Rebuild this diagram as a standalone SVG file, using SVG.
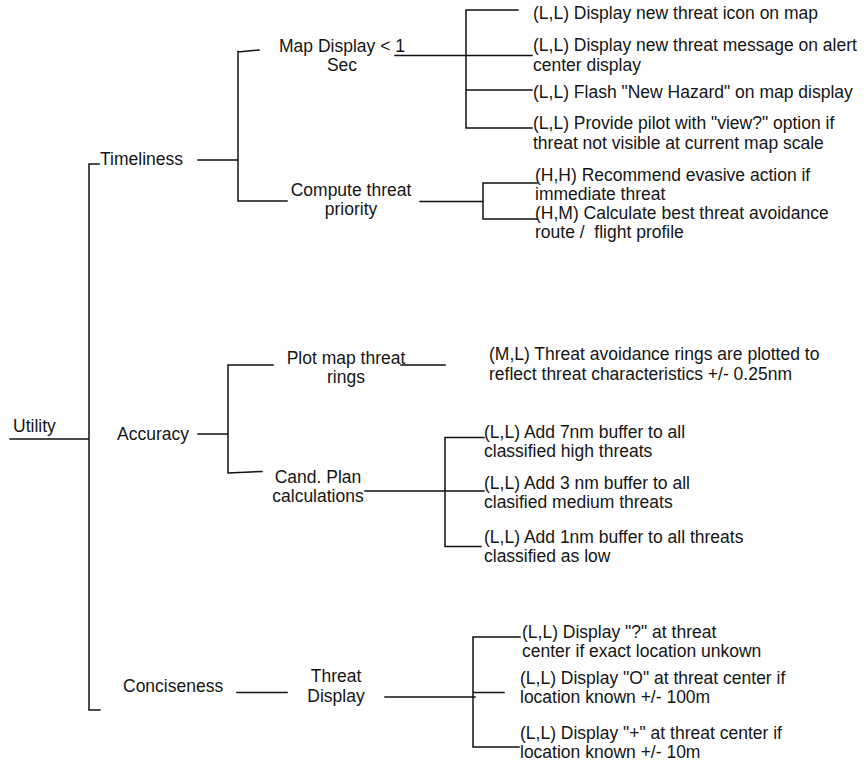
<svg xmlns="http://www.w3.org/2000/svg" width="867" height="763" viewBox="0 0 867 763">
  <style>
    text { font-family: "Liberation Sans", Arial, sans-serif; font-size: 17.5px; fill: #151515; }
    .mid { text-anchor: middle; }
    .wire { fill: none; stroke: #111; stroke-width: 1.5; stroke-linecap: square; }
  </style>
  <rect width="867" height="763" fill="#fff"/>

  <!-- tree connectors -->
  <g id="connectors" class="wire">
    <!-- root and spine -->
    <path d="M10,439 H89 M89,164 V710 M89,164 H99 M89,710 H100"/>
    <!-- Timeliness -->
    <path d="M198,160 H238 M238,51.5 V201 M238,52 L259,50 M238,201 H287"/>
    <!-- Map Display -->
    <path d="M395,55.5 H532 M466,10 V128 M466,10 H518 M466,90 H532 M466,128 H532"/>
    <!-- Compute threat priority -->
    <path d="M420,201.5 H483 M483,183 V219 M483,183 H537 M483,219 H537"/>
    <!-- Accuracy -->
    <path d="M198,434 H228 M228,365 V473 M228,365 H273 M228,473 L262,471.5"/>
    <!-- Plot map threat rings -->
    <path d="M401,365 H445"/>
    <!-- Cand. Plan calculations -->
    <path d="M365,491 H484 M445,437.5 V546.5 M445,437.5 H484 M445,546.5 H481"/>
    <!-- Conciseness / Threat Display -->
    <path d="M237,692.5 H287 M385,697 H475 M473,637 V747 M473,637 H520 M473,692.5 H504 M473,747 H519"/>
  </g>

  <g id="utility"><text x="13" y="432">Utility</text></g>

  <g id="timeliness"><text x="100" y="165">Timeliness</text></g>
  <g id="accuracy"><text x="117" y="440">Accuracy</text></g>
  <g id="conciseness"><text x="123" y="692">Conciseness</text></g>

  <g id="map-display">
    <text class="mid" x="342" y="52">Map Display &lt; 1</text>
    <text class="mid" x="342" y="71">Sec</text>
  </g>
  <g id="compute-priority">
    <text class="mid" x="351" y="196">Compute threat</text>
    <text class="mid" x="351" y="215">priority</text>
  </g>
  <g id="plot-rings">
    <text class="mid" x="346" y="364">Plot map threat</text>
    <text class="mid" x="346" y="383">rings</text>
  </g>
  <g id="cand-plan">
    <text class="mid" x="318" y="483">Cand. Plan</text>
    <text class="mid" x="318" y="502">calculations</text>
  </g>
  <g id="threat-display">
    <text class="mid" x="336" y="682">Threat</text>
    <text class="mid" x="336" y="702">Display</text>
  </g>

  <g id="s-icon"><text x="533" y="19">(L,L) Display new threat icon on map</text></g>
  <g id="s-message">
    <text x="533" y="51">(L,L) Display new threat message on alert</text>
    <text x="533" y="71">center display</text>
  </g>
  <g id="s-flash"><text x="533" y="98">(L,L) Flash "New Hazard" on map display</text></g>
  <g id="s-view">
    <text x="533" y="129">(L,L) Provide pilot with "view?" option if</text>
    <text x="533" y="149">threat not visible at current map scale</text>
  </g>
  <g id="s-evasive">
    <text x="535" y="181">(H,H) Recommend evasive action if</text>
    <text x="535" y="200">immediate threat</text>
  </g>
  <g id="s-route">
    <text x="535" y="219">(H,M) Calculate best threat avoidance</text>
    <text x="535" y="238" xml:space="preserve">route /  flight profile</text>
  </g>
  <g id="s-rings">
    <text x="489" y="360">(M,L) Threat avoidance rings are plotted to</text>
    <text x="489" y="380">reflect threat characteristics +/- 0.25nm</text>
  </g>
  <g id="s-buffer7">
    <text x="484" y="438">(L,L) Add 7nm buffer to all</text>
    <text x="484" y="457">classified high threats</text>
  </g>
  <g id="s-buffer3">
    <text x="484" y="489">(L,L) Add 3 nm buffer to all</text>
    <text x="484" y="508">clasified medium threats</text>
  </g>
  <g id="s-buffer1">
    <text x="484" y="543">(L,L) Add 1nm buffer to all threats</text>
    <text x="484" y="562">classified as low</text>
  </g>
  <g id="s-question">
    <text x="522" y="638">(L,L) Display "?" at threat</text>
    <text x="522" y="657">center if exact location unkown</text>
  </g>
  <g id="s-circle">
    <text x="520" y="684">(L,L) Display "O" at threat center if</text>
    <text x="520" y="703">location known +/- 100m</text>
  </g>
  <g id="s-plus">
    <text x="520" y="739">(L,L) Display "+" at threat center if</text>
    <text x="520" y="758">location known +/- 10m</text>
  </g>
</svg>
